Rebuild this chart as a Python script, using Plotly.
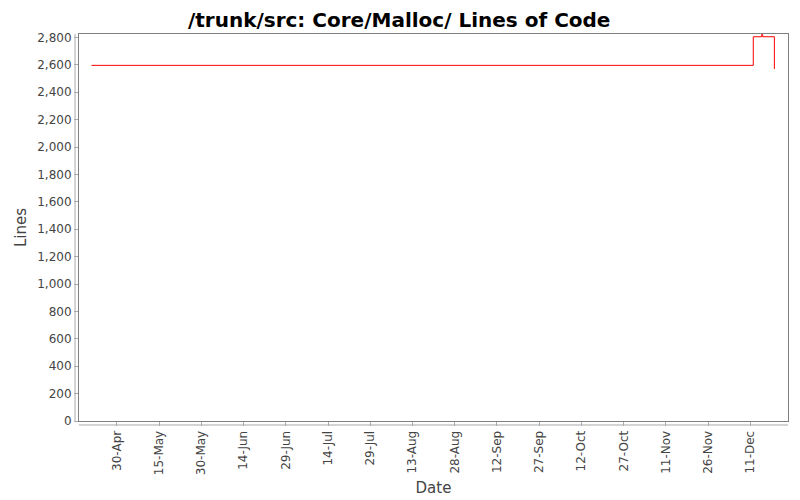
import plotly.graph_objects as go

# revision dates and lines of code (step chart)
dates = ["2006-04-21", "2006-12-12", "2006-12-15 00:00", "2006-12-15 08:00", "2006-12-19 12:00"]
lines = [2596, 2805, 2822, 2805, 2570]

fig = go.Figure()
fig.add_trace(go.Scatter(
    x=dates, y=lines,
    mode="lines",
    line=dict(color="#ff0000", width=1, shape="hv"),
    showlegend=False,
))

axis_font = dict(family="DejaVu Sans", size=12, color="#444444")
label_font = dict(family="DejaVu Sans", size=15, color="#444444")

# the page body adds an 8px offset, margins account for it
fig.update_layout(
    width=800, height=500,
    paper_bgcolor="white",
    plot_bgcolor="white",
    margin=dict(l=71, r=20, t=26, b=87),
    title=dict(
        text="<b>/trunk/src: Core/Malloc/ Lines of Code</b>",
        x=0.489, xanchor="center", y=0.976, yanchor="middle",
        font=dict(family="DejaVu Sans", size=20, color="black"),
    ),
    xaxis=dict(
        range=["2006-04-16 14:00", "2006-12-24 08:00"],
        tick0="2006-04-30", dtick=15 * 86400000,
        tickformat="%d-%b", tickangle=-90,
        tickfont=axis_font,
        ticks="outside", ticklen=4, tickcolor="#aaaaaa",
        showgrid=False, zeroline=False,
        showline=True, mirror=True, linecolor="#808080", linewidth=1,
        title=dict(text="Date", font=label_font, standoff=8),
    ),
    yaxis=dict(
        range=[0, 2825],
        tick0=0, dtick=200, tickformat=",d",
        tickfont=axis_font,
        ticks="outside", ticklen=4, tickcolor="#aaaaaa",
        showgrid=False, zeroline=False,
        showline=True, mirror=True, linecolor="#808080", linewidth=1,
        title=dict(text="Lines", font=label_font, standoff=6),
    ),
    shapes=[
        # offset axis lines, JFreeChart style
        dict(type="line", xref="paper", yref="paper", x0=-0.0056, x1=-0.0056, y0=0, y1=1,
             line=dict(color="#aaaaaa", width=1)),
        dict(type="line", xref="paper", yref="paper", x0=0, x1=1, y0=-0.0103, y1=-0.0103,
             line=dict(color="#aaaaaa", width=1)),
    ],
)

fig.write_html("out.html", config={"displayModeBar": False})
